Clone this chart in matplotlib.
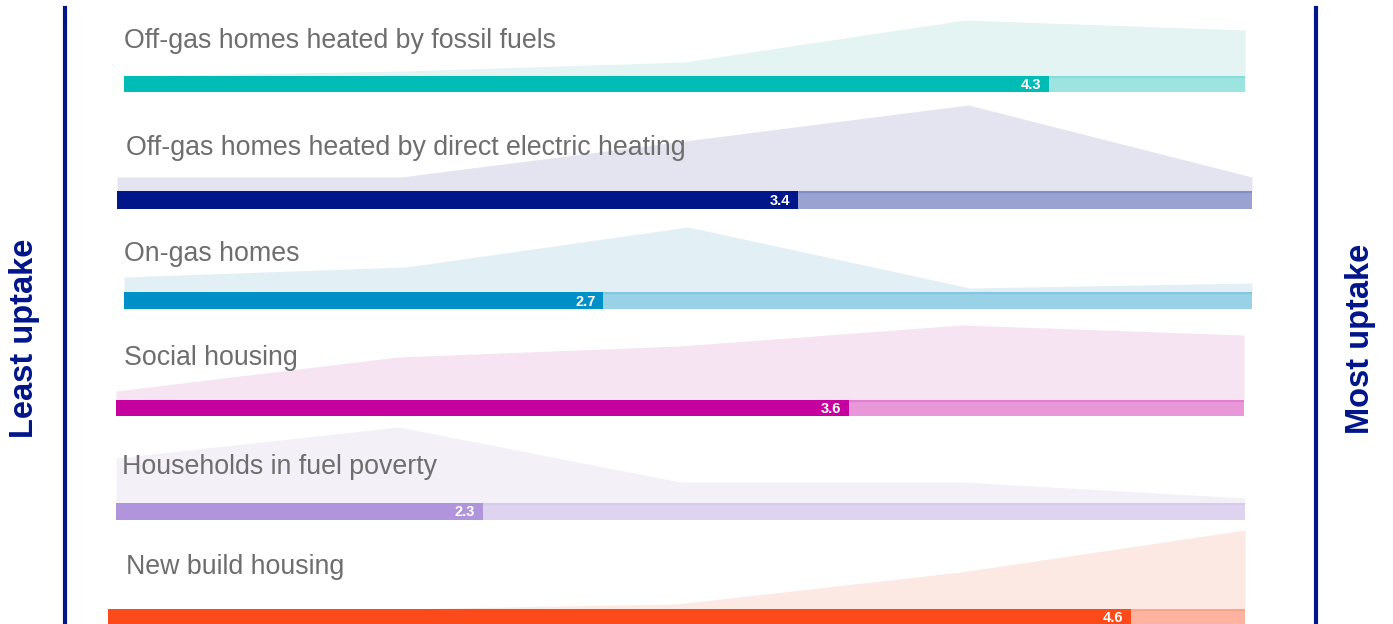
import matplotlib.pyplot as plt

plt.rcParams['font.family'] = ['Liberation Sans', 'DejaVu Sans']

W, H = 1393, 624

# data
groups = ['Off-gas homes heated by fossil fuels',
          'Off-gas homes heated by direct electric heating',
          'On-gas homes',
          'Social housing',
          'Households in fuel poverty',
          'New build housing']
scores = [4.3, 3.4, 2.7, 3.6, 2.3, 4.6]
scale = [1, 2, 3, 4, 5]
# spread of ratings along the 1-5 scale (soft area behind each bar)
spread_fossil = [0, 5, 14, 56, 46]
spread_electric = [14, 14, 50, 86, 14]
spread_ongas = [15, 25, 65, 4, 9]
spread_social = [9, 43, 54, 75, 65]
spread_poverty = [45, 76, 21, 21, 5]
spread_newbuild = [0, 0, 5, 37, 79]
spreads = [spread_fossil, spread_electric, spread_ongas,
           spread_social, spread_poverty, spread_newbuild]

# colours: bar, rest of bar, area
dark = ['#00bcb4', '#001689', '#0090c8', '#c6009e', '#b095dc', '#fc4a1a']
light = ['#9de4e0', '#9aa2d1', '#99d1e6', '#e897d8', '#ded4f0', '#fdb3a0']
soft = ['#e3f4f3', '#e4e4f0', '#e2eff5', '#f6e4f2', '#f3f0f8', '#fce9e4']
navy = '#001689'
grey = '#6e6e6e'

# layout in pixels: left, right, bar top, bar bottom, label x, label y
layout = [(124, 1245, 76, 92, 124, 41),
          (117, 1252, 191, 209, 126, 148),
          (124, 1252, 292, 309, 124, 254),
          (116, 1244, 400, 416, 124, 358),
          (116, 1245, 503, 520, 122, 467),
          (108, 1245, 609, 626, 126, 567)]

fig = plt.figure(figsize=(W / 100, H / 100), dpi=100)

for i in range(len(groups)):
    x0, x1, top, bot, lx, ly = layout[i]
    bar_h = bot - top
    ax = fig.add_axes([x0 / W, 1 - bot / H, (x1 - x0) / W, (bar_h + 110) / H])
    ax.set_xlim(1, 5)
    ax.set_ylim(-bar_h, 110)
    ax.axis('off')
    ax.fill_between(scale, 0, spreads[i], color=soft[i], lw=0)
    ax.barh(-bar_h / 2, 4, left=1, height=bar_h, color=light[i], lw=0)
    ax.plot([scores[i], 5], [-1, -1], color=dark[i], alpha=0.15, lw=1.5)
    ax.barh(-bar_h / 2, scores[i] - 1, left=1, height=bar_h, color=dark[i], lw=0)
    ax.annotate(f'{scores[i]}', (scores[i], -bar_h / 2), xytext=(-8, -1),
                textcoords='offset pixels', ha='right', va='center',
                color='white', fontsize=10.5, fontweight='bold')
    fig.text(lx / W, 1 - ly / H, groups[i], ha='left', va='center',
             color=grey, fontsize=19.3)

# side rules
side = fig.add_axes([0, 0, 1, 1])
side.set_xlim(0, W)
side.set_ylim(H, 0)
side.axis('off')
side.plot([65, 65], [8, H], color=navy, lw=3)
side.plot([1316, 1316], [8, H], color=navy, lw=3)
side.text(25, 338, 'Least uptake', rotation=90, ha='center', va='center',
          color=navy, fontsize=23.5, fontweight='bold')
side.text(1360, 339, 'Most uptake', rotation=90, ha='center', va='center',
          color=navy, fontsize=23.5, fontweight='bold')

fig.savefig('out.png', dpi=100)
